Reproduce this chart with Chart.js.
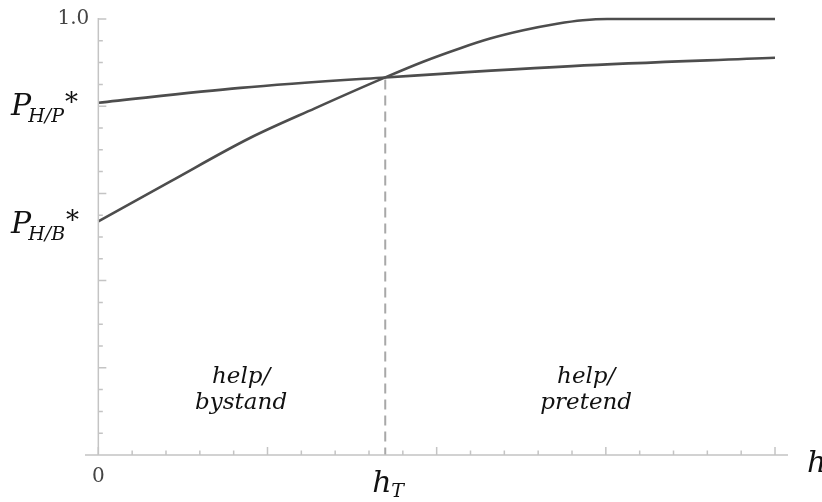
<!DOCTYPE html>
<html>
<head>
<meta charset="utf-8">
<script src="https://cdn.jsdelivr.net/npm/chart.js@4.4.1/dist/chart.umd.min.js"></script>
<style>
  html, body { margin: 0; padding: 0; background: #fff; }
</style>
</head>
<body>
<canvas id="helpChart" width="822" height="502"></canvas>
<script>
// curve for P(help | bystander)
const bystandH = [0, 0.106, 0.224, 0.320, 0.424, 0.480, 0.535, 0.579, 0.628, 0.678, 0.716, 0.752, 1.0];
const bystandP = [0.536, 0.627, 0.727, 0.795, 0.866, 0.902, 0.933, 0.955, 0.974, 0.989, 0.997, 1.0, 1.0];
// curve for P(help | pretender)
const pretendH = [0, 0.210, 0.424, 0.700, 1.0];
const pretendP = [0.808, 0.842, 0.866, 0.892, 0.911];
// threshold h_T
const thresholdH = 0.424;
const thresholdP = 0.866;
// axis ticks
const xTicks = [0, 0.05, 0.1, 0.15, 0.2, 0.25, 0.3, 0.35, 0.4, 0.45, 0.5, 0.55, 0.6, 0.65, 0.7, 0.75, 0.8, 0.85, 0.9, 0.95, 1.0];
const xMajor = [0, 0.25, 0.5, 0.75, 1.0];
const yTicks = [0.05, 0.1, 0.15, 0.2, 0.25, 0.3, 0.35, 0.4, 0.45, 0.5, 0.55, 0.6, 0.65, 0.7, 0.75, 0.8, 0.85, 0.9, 0.95, 1.0];
const yMajor = [0.2, 0.4, 0.6, 0.8, 1.0];
const xTickLabels = ['0'];
const xTickLabelValues = [0];
const yTickLabels = ['1.0'];
const yTickLabelValues = [1.0];
// region labels
const regionLabels = [['help/', 'bystand'], ['help/', 'pretend']];
const regionCenters = [0.211, 0.721];
const regionLevel = 0.165;

const toPoints = (xs, ys) => xs.map((x, i) => ({x: x, y: ys[i]}));

const LINE = '#4d4d4d';
const AXIS = '#c4c4c4';
const SERIF = '"DejaVu Serif", "Liberation Serif", serif';

const axesPlugin = {
    id: 'axesPlugin',
    afterDatasetsDraw(chart) {
        const ctx = chart.ctx;
        const xs = chart.scales.x;
        const ys = chart.scales.y;
        const x0 = xs.getPixelForValue(0);
        const y0 = ys.getPixelForValue(0);
        ctx.save();

        // dashed threshold
        ctx.strokeStyle = '#a8a8a8';
        ctx.lineWidth = 2;
        ctx.setLineDash([10, 6]);
        ctx.beginPath();
        ctx.moveTo(xs.getPixelForValue(thresholdH), ys.getPixelForValue(thresholdP) + 2);
        ctx.lineTo(xs.getPixelForValue(thresholdH), y0);
        ctx.stroke();
        ctx.setLineDash([]);

        // axis lines
        ctx.strokeStyle = AXIS;
        ctx.lineWidth = 1.5;
        ctx.beginPath();
        ctx.moveTo(chart.chartArea.left, y0);
        ctx.lineTo(chart.chartArea.right, y0);
        ctx.moveTo(x0, y0);
        ctx.lineTo(x0, ys.getPixelForValue(1.0) - 1);
        ctx.stroke();

        // ticks, pointing into the plot
        ctx.beginPath();
        xTicks.forEach(v => {
            const len = xMajor.includes(v) ? 8 : 4.5;
            const px = xs.getPixelForValue(v);
            ctx.moveTo(px, y0);
            ctx.lineTo(px, y0 - len);
        });
        yTicks.forEach(v => {
            const len = yMajor.includes(v) ? 8 : 4.5;
            const py = ys.getPixelForValue(v);
            ctx.moveTo(x0, py);
            ctx.lineTo(x0 + len, py);
        });
        ctx.stroke();

        // tick labels
        ctx.fillStyle = '#444';
        ctx.font = '20px ' + SERIF;
        ctx.textAlign = 'center';
        ctx.textBaseline = 'middle';
        xTickLabels.forEach((t, i) => ctx.fillText(t, xs.getPixelForValue(xTickLabelValues[i]), y0 + 22));
        ctx.textAlign = 'right';
        yTickLabels.forEach((t, i) => ctx.fillText(t, x0 - 9, ys.getPixelForValue(yTickLabelValues[i])));

        // P labels on y axis
        ctx.fillStyle = '#111';
        ctx.textBaseline = 'alphabetic';
        ctx.textAlign = 'left';
        const pLabel = (sub, val) => {
            const base = ys.getPixelForValue(val) + 12;
            let x = 11;
            ctx.font = 'italic 30px ' + SERIF;
            ctx.fillText('P', x, base);
            x += ctx.measureText('P').width - 3;
            ctx.font = 'italic 19px ' + SERIF;
            ctx.fillText(sub, x, base + 7);
            x += ctx.measureText(sub).width + 1;
            ctx.font = '26px ' + SERIF;
            ctx.fillText('*', x, base - 4);
        };
        pLabel('H/P', pretendP[0]);
        pLabel('H/B', bystandP[0]);

        // h_T below threshold
        const hx = xs.getPixelForValue(thresholdH);
        ctx.font = 'italic 30px ' + SERIF;
        ctx.fillText('h', hx - 13, y0 + 37);
        ctx.font = 'italic 19px ' + SERIF;
        ctx.fillText('T', hx + 6, y0 + 42);

        // h at end of x axis
        ctx.font = 'italic 30px ' + SERIF;
        ctx.fillText('h', chart.chartArea.right + 19, y0 + 17);

        // region labels
        ctx.font = 'italic 23px ' + SERIF;
        ctx.textAlign = 'center';
        regionLabels.forEach((lines, i) => {
            const cx = xs.getPixelForValue(regionCenters[i]);
            const by = ys.getPixelForValue(regionLevel);
            lines.forEach((ln, j) => ctx.fillText(ln, cx, by + j * 26));
        });
        ctx.restore();
    }
};

const CHART = document.getElementById('helpChart');
let helpChart = new Chart(CHART, {
    type: 'line',
    data: {
        datasets: [
            {
                label: 'bystand',
                data: toPoints(bystandH, bystandP),
                borderColor: LINE,
                borderWidth: 2.6,
                pointRadius: 0,
                fill: false,
                cubicInterpolationMode: 'monotone'
            },
            {
                label: 'pretend',
                data: toPoints(pretendH, pretendP),
                borderColor: LINE,
                borderWidth: 2.6,
                pointRadius: 0,
                fill: false,
                cubicInterpolationMode: 'monotone'
            }
        ]
    },
    options: {
        responsive: false,
        animation: false,
        clip: false,
        layout: { padding: { left: 85, right: 34, top: 19, bottom: 47 } },
        plugins: { legend: { display: false }, tooltip: { enabled: false } },
        scales: {
            x: { type: 'linear', min: -0.0197, max: 1.0192, display: false },
            y: { type: 'linear', min: 0, max: 1.0, display: false }
        }
    },
    plugins: [axesPlugin]
});
</script>
</body>
</html>
